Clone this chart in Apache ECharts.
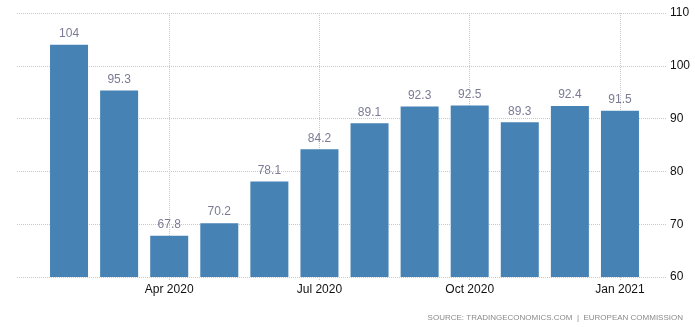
<!DOCTYPE html>
<html><head><meta charset="utf-8">
<script src="https://cdn.jsdelivr.net/npm/echarts@6/dist/echarts.min.js"></script>
<style>html,body{margin:0;padding:0;background:#fff}#c{width:695px;height:327px}</style>
</head><body><div id="c"></div>
<script>
const categories = ['Feb 2020','Mar 2020','Apr 2020','May 2020','Jun 2020','Jul 2020','Aug 2020','Sep 2020','Oct 2020','Nov 2020','Dec 2020','Jan 2021'];
const values = [104, 95.3, 67.8, 70.2, 78.1, 84.2, 89.1, 92.3, 92.5, 89.3, 92.4, 91.5];
const yMin = 60, yMax = 110, yStep = 10;
const sourceText = 'SOURCE: TRADINGECONOMICS.COM  |  EUROPEAN COMMISSION';

const chart = echarts.init(document.getElementById('c'), null, {renderer:'canvas'});
const gridColor = '#c8c8c8';
const showIdx = (i) => i % 3 === 2;
chart.setOption({
  animation: false,
  grid: [
    {left: 17, right: 28, top: 13, bottom: 50},
    {left: 44, right: 50, top: 13, bottom: 50}
  ],
  xAxis: [
    {gridIndex: 0, type: 'value', show: false, min: 0, max: 1},
    {gridIndex: 1, type: 'category', data: categories, boundaryGap: true,
     axisLine: {show: false},
     axisTick: {show: true, alignWithLabel: true, interval: showIdx, length: 4, lineStyle: {color: gridColor, type: 'dotted'}},
     axisLabel: {interval: showIdx, color: '#111', fontFamily: 'Liberation Sans, Arial, sans-serif', fontSize: 12, margin: 7},
     splitLine: {show: true, alignWithLabel: true, interval: showIdx, lineStyle: {color: gridColor, type: 'dotted', width: 1}}
    }
  ],
  yAxis: [
    {gridIndex: 0, type: 'value', position: 'right', min: yMin, max: yMax, interval: yStep,
     axisLine: {show: false}, axisTick: {show: false},
     axisLabel: {color: '#111', fontFamily: 'Liberation Sans, Arial, sans-serif', fontSize: 12, margin: 3},
     splitLine: {show: true, lineStyle: {color: gridColor, type: 'dotted', width: 1}}
    },
    {gridIndex: 1, type: 'value', min: yMin, max: yMax, interval: yStep, show: false, splitLine: {show: false}}
  ],
  series: [{
    type: 'bar', xAxisIndex: 1, yAxisIndex: 1, data: values, barWidth: 38,
    itemStyle: {color: '#4682b4'},
    label: {show: true, position: 'top', distance: 5, color: '#7b7b96', fontFamily: 'Liberation Sans, Arial, sans-serif', fontSize: 12}
  }],
  graphic: [{
    type: 'text', right: 12, top: 314,
    style: {text: sourceText, fill: '#8a8a8a', font: '8px "Liberation Sans", Arial, sans-serif'}
  }]
});
</script></body></html>
